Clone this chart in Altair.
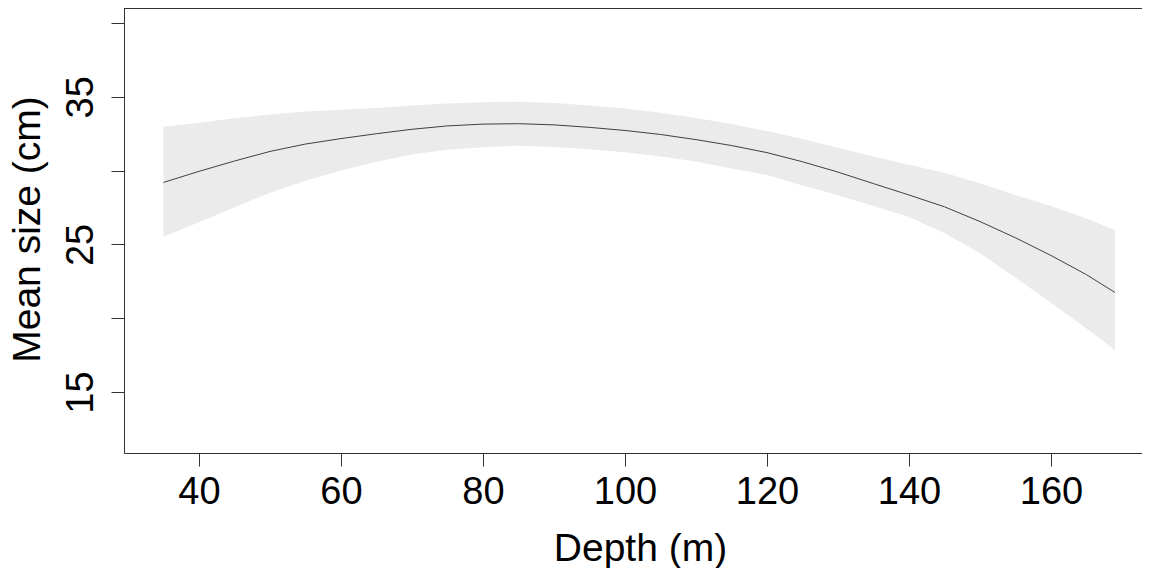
import altair as alt
import pandas as pd

depth = [35, 40, 45, 50, 55, 60, 65, 70, 75, 80, 85, 90, 95, 100, 105, 110,
         115, 120, 125, 130, 135, 140, 145, 150, 155, 160, 165, 169]
mean_size = [29.2, 29.95, 30.65, 31.3, 31.8, 32.17, 32.5, 32.8, 33.03, 33.15, 33.18, 33.1,
             32.93, 32.72, 32.45, 32.1, 31.7, 31.22, 30.6, 29.9, 29.12, 28.35, 27.55, 26.55,
             25.45, 24.25, 22.95, 21.75]
upper = [32.97, 33.25, 33.55, 33.8, 34.0, 34.12, 34.25, 34.42, 34.55, 34.63, 34.67, 34.58,
         34.42, 34.2, 33.92, 33.57, 33.15, 32.68, 32.15, 31.55, 30.95, 30.4, 29.85, 29.15,
         28.35, 27.6, 26.75, 25.98]
lower = [25.52, 26.5, 27.5, 28.5, 29.32, 30.0, 30.6, 31.1, 31.42, 31.58, 31.69, 31.6,
         31.45, 31.25, 30.95, 30.62, 30.15, 29.7, 29.0, 28.33, 27.6, 26.85, 25.75, 24.4,
         22.75, 21.05, 19.3, 17.85]

x_ticks = [40, 60, 80, 100, 120, 140, 160]
y_ticks = [15, 20, 25, 30, 35, 40]
y_labelled = [15, 25, 35]

df = pd.DataFrame({"depth": depth, "mean": mean_size, "upper": upper, "lower": lower})

W, H = 1018, 448
FONT = "Liberation Sans"
AX = "#333333"

xscale = alt.Scale(domain=[29.44, 172.82], nice=False, zero=False)
yscale = alt.Scale(domain=[10.87, 41.22], nice=False, zero=False)

label_expr = " || ".join(f"datum.value == {v}" for v in y_labelled)

xaxis = alt.Axis(values=x_ticks, title="Depth (m)", grid=False,
                 domainColor=AX, tickColor=AX, tickSize=13, tickWidth=1, domainWidth=1,
                 labelFont=FONT, labelFontSize=38, labelColor="black",
                 labelBaseline="alphabetic", labelPadding=37, labelFlush=False,
                 titleFont=FONT, titleFontSize=39, titleFontWeight="normal", titleColor="black",
                 titleBaseline="alphabetic", titleY=107, titleX=516, titleAlign="center")
yaxis = alt.Axis(values=y_ticks, title="Mean size (cm)", grid=False,
                 domainColor=AX, tickColor=AX, tickSize=13, tickWidth=1, domainWidth=1,
                 labelExpr=f"({label_expr}) ? datum.label : ''",
                 labelFont=FONT, labelFontSize=38, labelColor="black",
                 labelAngle=270, labelAlign="center", labelBaseline="alphabetic",
                 labelPadding=19, labelFlush=False,
                 titleFont=FONT, titleFontSize=39, titleFontWeight="normal", titleColor="black",
                 titleAngle=270, titleAlign="center", titleBaseline="alphabetic",
                 titleX=-85, titleY=H / 2)

base = alt.Chart(df)
band = base.mark_area(color="#EBEBEB", opacity=1).encode(
    x=alt.X("depth:Q", scale=xscale, axis=xaxis),
    y=alt.Y("lower:Q", scale=yscale, axis=yaxis),
    y2="upper:Q",
)
line = base.mark_line(color="#404040", strokeWidth=1).encode(
    x=alt.X("depth:Q", scale=xscale),
    y=alt.Y("mean:Q", scale=yscale),
)
top = alt.Chart(pd.DataFrame({"a": [0]})).mark_rule(color=AX, strokeWidth=1).encode(
    x=alt.value(0), x2=alt.value(W), y=alt.value(3.5)
)

chart = alt.layer(band, line, top).properties(
    width=W, height=H,
    autosize=alt.AutoSizeParams(type="none"),
    padding={"left": 116, "top": -3, "right": 0, "bottom": 115},
).configure_view(stroke=None).configure(background="white")

chart.save("out.html", embed_options={"renderer": "svg", "actions": False})
